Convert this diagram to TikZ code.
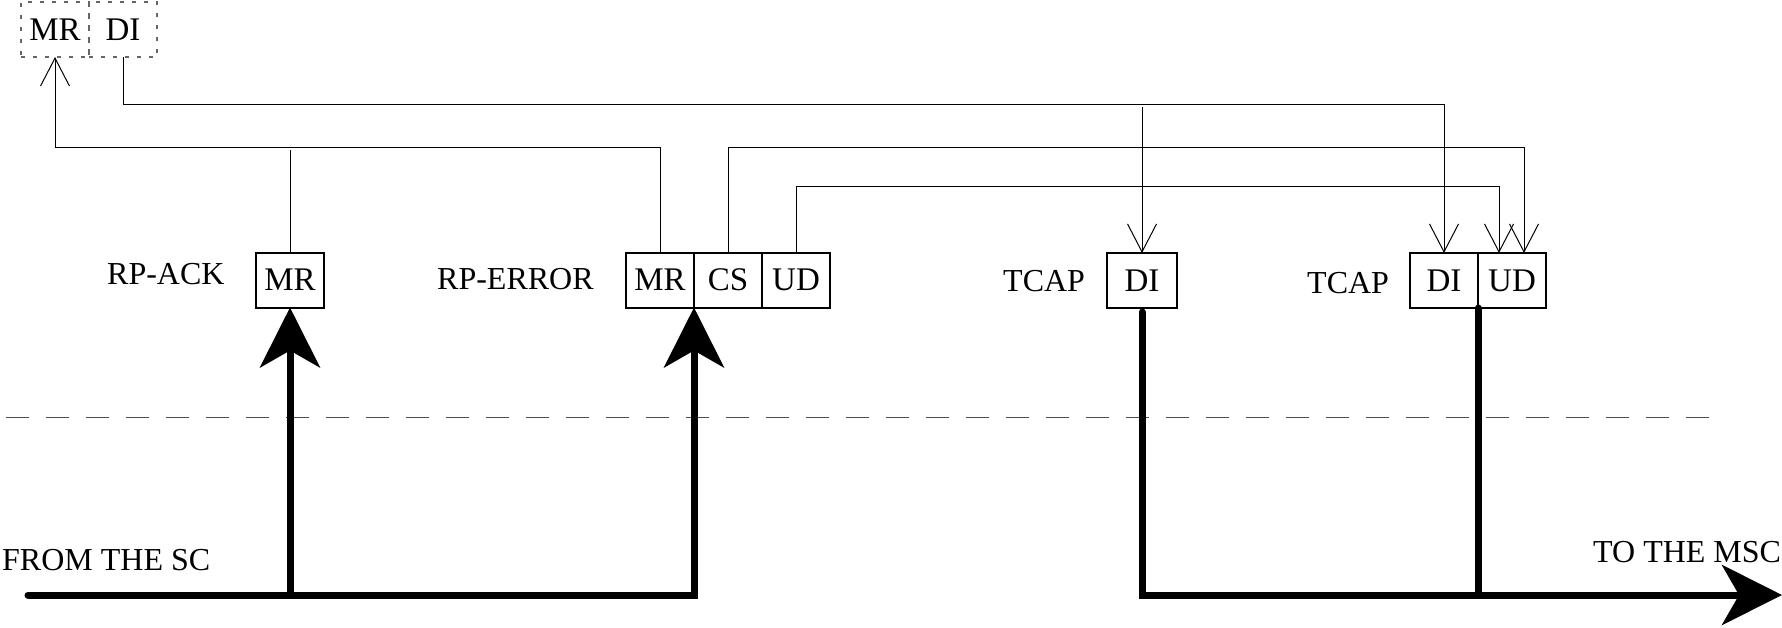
\documentclass[tikz,border=0pt]{standalone}
\usepackage{fontspec}
\setmainfont{Liberation Serif}
\usetikzlibrary{arrows.meta, positioning}

\begin{document}
\begin{tikzpicture}[
    x=1pt, y=-1pt,
    field/.style={draw, line width=2pt, minimum width=68pt, minimum height=55pt, inner sep=0pt, outer sep=0pt, font=\fontsize{33}{38}\selectfont},
    ghost/.style={field, draw=black!60, line width=1.5pt, dash pattern=on 4pt off 8pt},
    lab/.style={font=\fontsize{32}{38}\selectfont, inner sep=0pt, anchor=base west},
    link/.style={line width=1pt},
    linkarr/.style={link, -{Straight Barb[length=28pt, width=29pt]}},
    flow/.style={line width=7pt, line cap=round},
    flowarr/.style={flow, -{Stealth[length=60pt, width=60pt, inset=17pt]}}
]
\useasboundingbox (0,0) rectangle (1782,627);

% parameter fields
\node[ghost] (gmr) at (55,29.5) {MR};
\node[ghost, right=0pt of gmr] (gdi) {DI};
\node[field] (ackmr) at (290,280) {MR};
\node[field] (errmr) at (660,280) {MR};
\node[field, right=0pt of errmr] (errcs) {CS};
\node[field, right=0pt of errcs] (errud) {UD};
\node[field, minimum width=70pt] (tcapdi) at (1142,280.5) {DI};
\node[field] (tcapdib) at (1444,280.5) {DI};
\node[field, right=0pt of tcapdib] (tcapud) {UD};

% labels
\node[lab] (acklab) at (107,284) {RP-ACK};
\node[lab] (errlab) at (437,289) {RP-ERROR};
\node[lab] (tcaplab) at (1003,291) {TCAP};
\node[lab] (tcaplabb) at (1307,293) {TCAP};
\node[lab] (sclab) at (2,570) {FROM THE SC};
\node[lab] (msclab) at (1593,562) {TO THE MSC};

% dividing line
\coordinate (sepl) at (6,417);
\coordinate (sepr) at (1710,417);
\draw[black!70, line width=1pt, dash pattern=on 23pt off 17pt] (sepl) -- (sepr);

% mapping of the fields
\coordinate (ackend) at (290,150);
\coordinate (tapdi) at (1142,107);
\draw[link] (ackmr.north) -- (ackend);
\draw[linkarr] (errmr.north) -- ++(0,-105) -| (gmr.south);
\draw[linkarr] (gdi.south) -- ++(0,47) -| (tcapdib.north);
\draw[linkarr] (tapdi) -- (tcapdi.north);
\draw[linkarr] (errcs.north) -- ++(0,-105) -| ([xshift=12pt]tcapud.north);
\draw[linkarr] (errud.north) -- ++(0,-66) -| ([xshift=-13pt]tcapud.north);

% message flow
\coordinate (sc) at (28,595);
\coordinate (msc) at (1782,595);
\draw[flowarr] (sc) -| (errmr.south east);
\draw[flowarr] (ackmr.south |- sc) -- (ackmr.south);
\draw[flowarr] ([yshift=-4pt]tcapdi.south) |- (msc);
\draw[flow] (tcapdib.south east) -- (tcapdib.south east |- msc);
\end{tikzpicture}
\end{document}
